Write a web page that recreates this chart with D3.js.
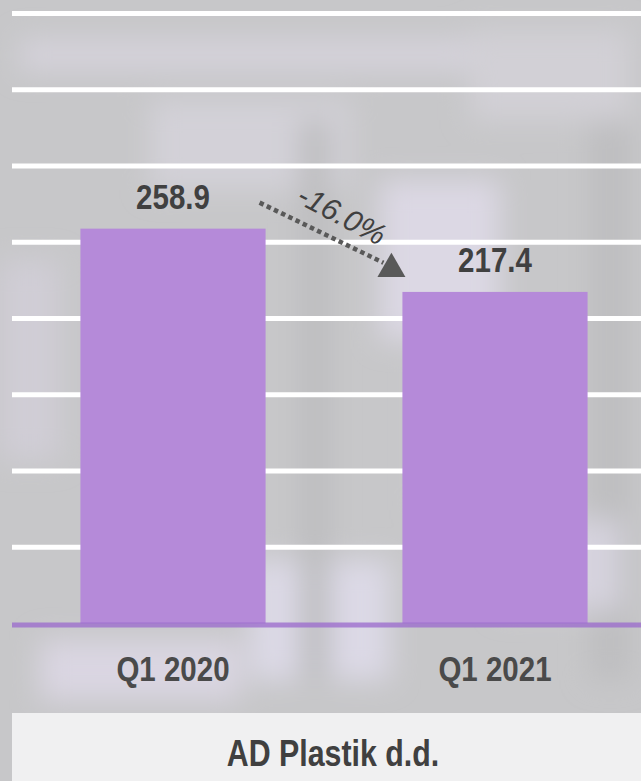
<!DOCTYPE html>
<html>
<head>
<meta charset="utf-8">
<script src="https://cdn.jsdelivr.net/npm/d3@7"></script>
<style>
  html, body { margin: 0; padding: 0; background: #c6c6c8; }
  svg { display: block; }
  .val { font-family: "Liberation Sans", Arial, sans-serif; font-weight: bold; }
</style>
</head>
<body>
<script>
// chart data
var categories = ["Q1 2020", "Q1 2021"];
var values = [258.9, 217.4];
var gridTicks = [50, 100, 150, 200, 250, 300, 350, 400];
var changeLabel = "-16.0%";
var title = "AD Plastik d.d.";

var width = 641,
    height = 781,
    narrow = 0.82; // no Arial Narrow here, squeeze the bold sans instead

var svg = d3.select("body")
    .append("svg")
        .attr("width", width)
        .attr("height", height);

// blurred backdrop (stands in for the photo behind the chart)
var defs = svg.append("defs");
defs.append("filter")
    .attr("id", "blur")
    .attr("x", "-20%").attr("y", "-20%")
    .attr("width", "140%").attr("height", "140%")
  .append("feGaussianBlur")
    .attr("stdDeviation", 14);

svg.append("rect")
    .attr("width", width)
    .attr("height", height)
    .attr("fill", "#c7c7c9");

var bg = svg.append("g").attr("filter", "url(#blur)");
var patches = [
    [20, 40, 600, 30, "#d6d3dc"],
    [150, 100, 200, 90, "#d3d1d8"],
    [380, 180, 120, 160, "#dcd8e4"],
    [470, 30, 160, 90, "#d2d0d6"],
    [0, 260, 60, 200, "#d0cdd6"],
    [40, 640, 200, 60, "#dad6e2"],
    [250, 560, 140, 120, "#dcd9e6"],
    [300, 120, 30, 560, "#bdbdbf"],
    [590, 120, 40, 560, "#bebec0"],
    [420, 330, 90, 180, "#cfcdd4"],
    [500, 520, 120, 90, "#d6d3de"]
];
bg.selectAll("rect")
    .data(patches)
  .enter().append("rect")
    .attr("x", function(d) { return d[0]; })
    .attr("y", function(d) { return d[1]; })
    .attr("width", function(d) { return d[2]; })
    .attr("height", function(d) { return d[3]; })
    .attr("fill", function(d) { return d[4]; });

// scales
var x = d3.scaleBand()
    .domain(categories)
    .range([12, 656])
    .paddingInner(0.425)
    .paddingOuter(0.2125);

var y = d3.scaleLinear()
    .domain([0, 400])
    .range([623.4, 13.5]);

// gridlines
svg.append("g")
    .attr("class", "grid")
  .selectAll("line")
    .data(gridTicks)
  .enter().append("line")
    .attr("x1", 12)
    .attr("x2", width)
    .attr("y1", function(d) { return y(d); })
    .attr("y2", function(d) { return y(d); })
    .attr("stroke", "#ffffff")
    .attr("stroke-width", 5);

// bars
svg.selectAll(".bar")
    .data(values)
  .enter().append("rect")
    .attr("class", "bar")
    .attr("x", function(d, i) { return x(categories[i]); })
    .attr("width", x.bandwidth())
    .attr("y", function(d) { return y(d); })
    .attr("height", function(d) { return y(0) - y(d); })
    .attr("fill", "#b58ad9");

// baseline
svg.append("line")
    .attr("x1", 12)
    .attr("x2", width)
    .attr("y1", y(0) + 1.5)
    .attr("y2", y(0) + 1.5)
    .attr("stroke", "#9a68cc")
    .attr("stroke-opacity", 0.75)
    .attr("stroke-width", 5);

// value labels
svg.selectAll(".val-label")
    .data(values)
  .enter().append("text")
    .attr("class", "val")
    .attr("transform", function(d, i) {
        return "translate(" + (x(categories[i]) + x.bandwidth() / 2) + "," + (y(d) - 20) + ") scale(" + narrow + ",1)";
    })
    .attr("text-anchor", "middle")
    .attr("font-size", 36)
    .attr("fill", "#404040")
    .text(function(d) { return d.toFixed(1); });

// category labels
var xAxis = d3.axisBottom(x).tickSize(0).tickPadding(0);
var gx = svg.append("g")
    .attr("transform", "translate(0," + 681 + ")")
    .call(xAxis);
gx.select(".domain").remove();
gx.selectAll("text")
    .attr("class", "val")
    .attr("dy", 0)
    .attr("y", 0)
    .attr("transform", "translate(" + x.bandwidth() / 2 + ",0) scale(" + narrow + ",1) translate(" + (-x.bandwidth() / 2) + ",0)")
    .attr("font-size", 36)
    .attr("fill", "#4a4a4a");
gx.selectAll(".tick text")
    .attr("transform", "scale(" + narrow + ",1)");

// change arrow between the bars
var x0 = x(categories[0]) + x.bandwidth() - 6,
    y0 = y(values[0]) - 26,
    tipX = x(categories[1]) + 3,
    tipY = y(values[1]) - 15,
    side = 28;
var tri = [
    [tipX, tipY],
    [tipX - side, tipY],
    [tipX - side / 2, tipY - side * Math.sqrt(3) / 2]
];
var cx = (tri[0][0] + tri[1][0] + tri[2][0]) / 3,
    cy = (tri[0][1] + tri[1][1] + tri[2][1]) / 3;

svg.append("line")
    .attr("x1", x0)
    .attr("y1", y0)
    .attr("x2", cx - 8)
    .attr("y2", cy - 6)
    .attr("stroke", "#595959")
    .attr("stroke-width", 4.5)
    .attr("stroke-dasharray", "4.5,3.5");

svg.append("path")
    .attr("d", d3.line()(tri) + "Z")
    .attr("fill", "#595959");

var ang = Math.atan2(cy - y0, cx - x0) * 180 / Math.PI;
svg.append("text")
    .attr("transform", "translate(" + 337 + "," + 224 + ") rotate(" + (ang + 1) + ")")
    .attr("text-anchor", "middle")
    .attr("font-family", "'Liberation Sans', Arial, sans-serif")
    .attr("font-style", "italic")
    .attr("font-size", 30)
    .attr("fill", "#404040")
    .text(changeLabel);

// title panel
svg.append("rect")
    .attr("x", 12)
    .attr("y", 713)
    .attr("width", width - 12)
    .attr("height", height - 713)
    .attr("fill", "#f0f0f1");

svg.append("text")
    .attr("class", "val")
    .attr("transform", "translate(333,766) scale(" + narrow + ",1)")
    .attr("text-anchor", "middle")
    .attr("font-size", 37)
    .attr("fill", "#404040")
    .text(title);
</script>
</body>
</html>
